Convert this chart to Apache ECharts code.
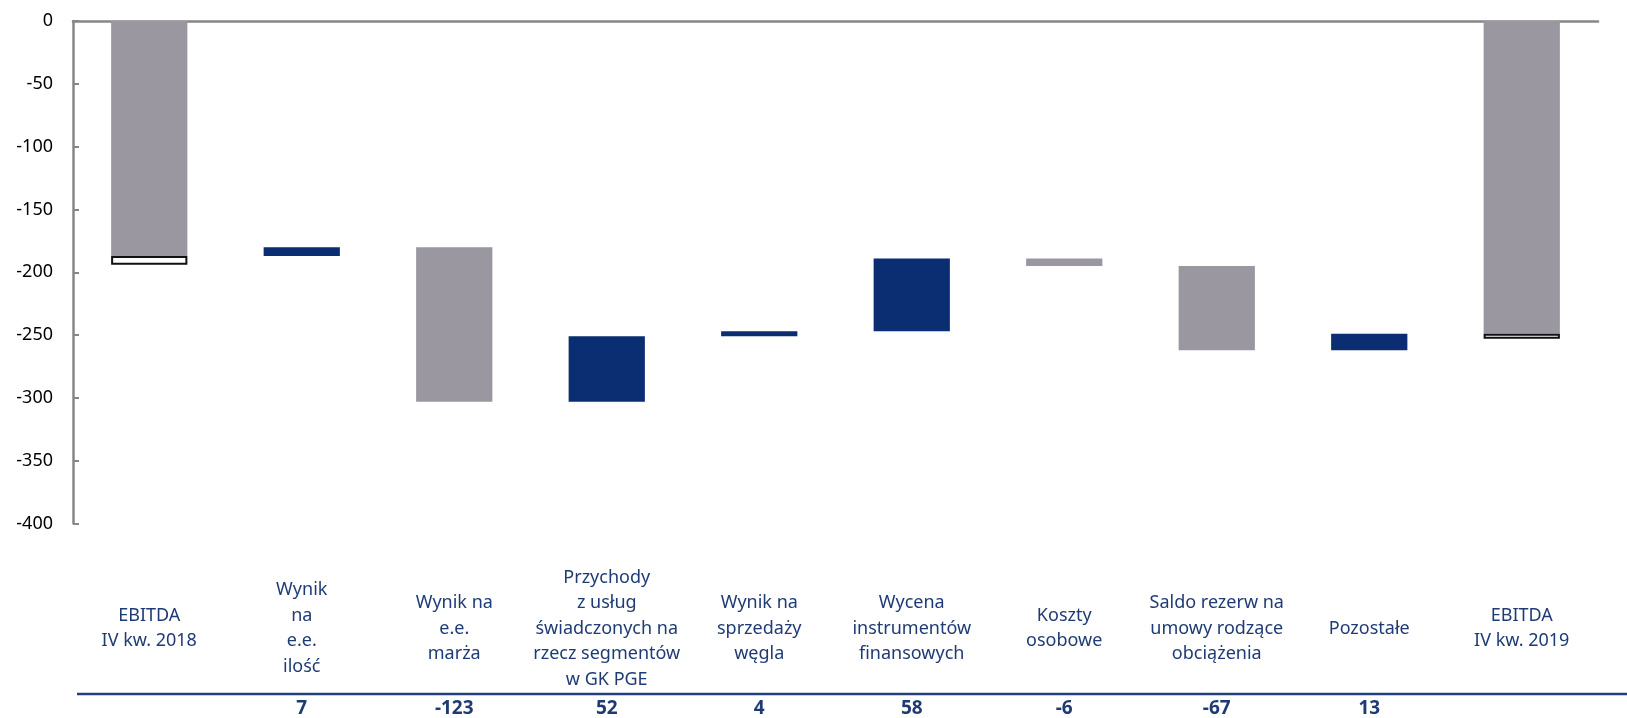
<!DOCTYPE html>
<html>
<head>
<meta charset="utf-8">
<title>EBITDA IV kw. 2018 - IV kw. 2019</title>
<script src="https://cdn.jsdelivr.net/npm/echarts@6/dist/echarts.min.js"></script>
<style>
  html, body { margin: 0; padding: 0; background: #fff; }
  #chart { width: 1627px; height: 718px; }
</style>
</head>
<body>
<div id="chart"></div>
<script>
// categories (bottom labels)
const categories = [
  "EBITDA\nIV kw. 2018",
  "Wynik\nna\ne.e.\nilość",
  "Wynik na\ne.e.\nmarża",
  "Przychody\nz usług\nświadczonych na\nrzecz segmentów\nw GK PGE",
  "Wynik na\nsprzedaży\nwęgla",
  "Wycena\ninstrumentów\nfinansowych",
  "Koszty\nosobowe",
  "Saldo rezerw na\numowy rodzące\nobciążenia",
  "Pozostałe",
  "EBITDA\nIV kw. 2019"
];
// totals (first and last column)
const startTotal = -187;
const endTotal = -249;
// changes between the totals
const changes = [7, -123, 52, 4, 58, -6, -67, 13];
// white framed box under each total bar
const totalBoxes = [7, 4];
// value axis
const yMin = -400;
const yMax = 0;
const yStep = 50;

const blue = "#0b2d72";
const gray = "#9a97a0";
const textBlue = "#1f3b75";

// build the waterfall series
const n = categories.length;
let base = [], up = [], down = [], total = [], box = [];
for (let i = 0; i < n; i++) {
  base.push("-"); up.push("-"); down.push("-"); total.push("-"); box.push("-");
}
total[0] = startTotal;
box[0] = -totalBoxes[0];
let running = startTotal;
changes.forEach(function (c, i) {
  const idx = i + 1;
  const next = running + c;
  base[idx] = Math.max(running, next);
  if (c > 0) up[idx] = -c;
  else down[idx] = c;
  running = next;
});
total[n - 1] = endTotal;
box[n - 1] = -totalBoxes[1];

const valueRow = ["", ...changes.map(String), ""];

let myChart = echarts.init(document.getElementById("chart"));
let option = {
  animation: false,
  grid: {
    left: 73,
    right: 29,
    top: 21,
    bottom: 192
  },
  xAxis: [
    {
      type: "category",
      data: categories,
      position: "bottom",
      axisLine: { show: false, onZero: false },
      axisTick: { show: false },
      axisLabel: {
        interval: 0,
        margin: 105,
        verticalAlign: "middle",
        color: textBlue,
        fontFamily: "Noto Sans",
        fontSize: 18,
        lineHeight: 25.5
      }
    },
    {
      type: "category",
      data: categories,
      position: "top",
      axisLine: {
        show: true,
        onZero: false,
        lineStyle: { color: "#878787", width: 2.5 }
      },
      axisTick: { show: false },
      axisLabel: { show: false }
    },
    {
      type: "category",
      data: valueRow,
      position: "bottom",
      axisLine: { show: false, onZero: false },
      axisTick: { show: false },
      axisLabel: {
        interval: 0,
        margin: 185,
        verticalAlign: "middle",
        color: textBlue,
        fontFamily: "Noto Sans",
        fontWeight: "bold",
        fontSize: 19
      }
    }
  ],
  yAxis: {
    type: "value",
    min: yMin,
    max: yMax,
    interval: yStep,
    axisLine: {
      show: true,
      lineStyle: { color: "#878787", width: 2.5 }
    },
    axisTick: {
      show: true,
      inside: true,
      length: 6,
      lineStyle: { color: "#878787", width: 2 }
    },
    splitLine: { show: false },
    axisLabel: {
      margin: 20,
      color: "#000",
      fontFamily: "Noto Sans",
      fontSize: 18
    }
  },
  graphic: [
    {
      type: "line",
      shape: { x1: 77, y1: 694, x2: 1627, y2: 694 },
      style: { stroke: "#22407c", lineWidth: 2.5 }
    }
  ],
  series: [
    {
      name: "base",
      type: "bar",
      stack: "w",
      barWidth: "50%",
      data: base,
      itemStyle: { color: "transparent" },
      silent: true
    },
    {
      name: "wzrost",
      type: "bar",
      stack: "w",
      data: up,
      itemStyle: { color: blue }
    },
    {
      name: "spadek",
      type: "bar",
      stack: "w",
      data: down,
      itemStyle: { color: gray }
    },
    {
      name: "EBITDA",
      type: "bar",
      stack: "w",
      data: total,
      itemStyle: { color: gray }
    },
    {
      name: "box",
      type: "bar",
      stack: "w",
      data: box,
      itemStyle: { color: "#fff", borderColor: "#111", borderWidth: 2 }
    }
  ]
};
myChart.setOption(option);
window.addEventListener("resize", () => {
  myChart.resize();
});
</script>
</body>
</html>
